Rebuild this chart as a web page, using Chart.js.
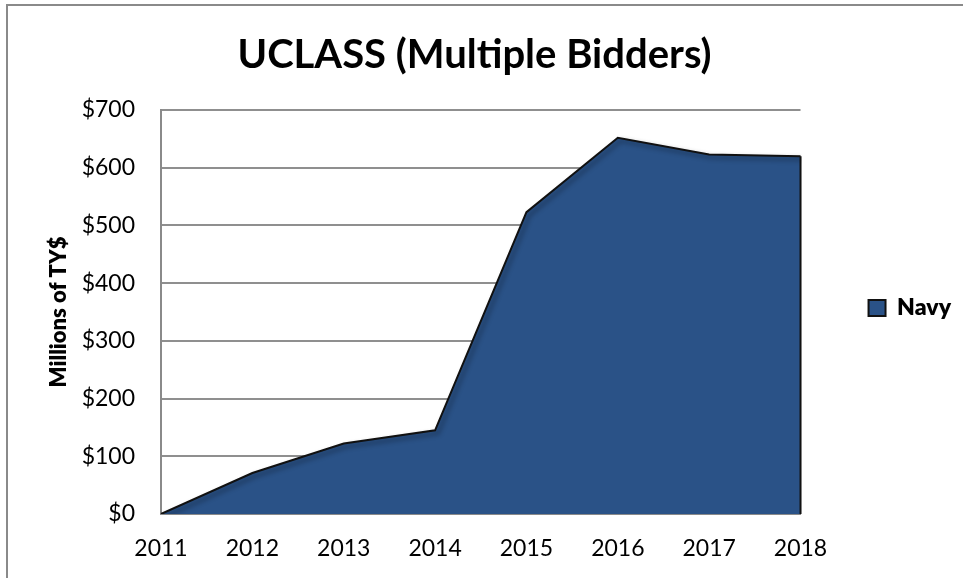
<!DOCTYPE html>
<html>
<head>
<meta charset="utf-8">
<style>
  html, body { margin: 0; padding: 0; background: #fff; }
  #wrap { position: relative; width: 963px; height: 578px; }
  #frame { position: absolute; left: 6px; top: 4px; right: 0; bottom: 0;
           border-top: 2px solid #8a8a8a; border-left: 2px solid #8a8a8a; pointer-events: none; }
  canvas { position: absolute; left: 0; top: 0; }
</style>
</head>
<body>
<div id="wrap">
  <canvas id="chart" width="963" height="578"></canvas>
  <div id="frame"></div>
</div>
<script src="https://cdn.jsdelivr.net/npm/chart.js@4.4.1/dist/chart.umd.min.js"></script>
<script>
// values
var years = ['2011', '2012', '2013', '2014', '2015', '2016', '2017', '2018'];
var navy = [0, 71, 122, 145, 523, 652, 623, 620];
var yTicks = [0, 100, 200, 300, 400, 500, 600, 700];

var FONT = 'Lato, "Open Sans", sans-serif';

// drop shadow under the area + closing edge at the last year
var areaPlugin = {
  id: 'areaShadow',
  beforeDatasetDraw: function(chart) {
    var ctx = chart.ctx;
    ctx.save();
    ctx.shadowColor = 'rgba(0,0,0,0.45)';
    ctx.shadowBlur = 5;
    ctx.shadowOffsetX = 3;
    ctx.shadowOffsetY = 3;
  },
  afterDatasetDraw: function(chart) {
    var ctx = chart.ctx;
    ctx.restore();
    var x = chart.scales.x.getPixelForValue(years.length - 1);
    var y = chart.scales.y.getPixelForValue(navy[navy.length - 1]);
    var y0 = chart.scales.y.getPixelForValue(0);
    ctx.save();
    ctx.strokeStyle = '#111';
    ctx.lineWidth = 2;
    ctx.beginPath();
    ctx.moveTo(x, y);
    ctx.lineTo(x, y0);
    ctx.stroke();
    ctx.restore();
  }
};

// legend sits further right / lower than chart.js would put it
var legendShift = {
  id: 'legendShift',
  afterLayout: function(chart) {
    var lg = chart.legend;
    var w = lg.width;
    lg.left = chart.chartArea.right + 58;
    lg.right = lg.left + w;
    lg.top += 19;
    lg.bottom += 19;
  }
};

var ctx = document.getElementById('chart').getContext('2d');
var chart = new Chart(ctx, {
  type: 'line',
  data: {
    labels: years,
    datasets: [{
      label: 'Navy',
      data: navy,
      fill: 'origin',
      backgroundColor: '#2a5287',
      borderColor: '#111',
      borderWidth: 2,
      tension: 0,
      pointRadius: 0
    }]
  },
  options: {
    responsive: false,
    animation: false,
    layout: { padding: { left: 46, right: 60, top: 0, bottom: 0 } },
    scales: {
      x: {
        offset: false,
        grid: { display: false, drawTicks: false },
        border: { color: '#8a8a8a', width: 2 },
        ticks: { color: '#000', font: { family: FONT, size: 23 }, padding: 21, maxRotation: 0 },
        afterFit: function(scale) { scale.height = 64; }
      },
      y: {
        min: 0,
        max: 700,
        afterBuildTicks: function(scale) {
          scale.ticks = yTicks.map(function(v) { return { value: v }; });
        },
        afterFit: function(scale) { scale.width = 115; },
        grid: { color: '#8f8f8f', lineWidth: 2, drawTicks: false },
        border: { color: '#8a8a8a', width: 2 },
        ticks: {
          color: '#000',
          font: { family: FONT, size: 23 },
          padding: 26,
          callback: function(v) { return '$' + v; }
        },
        title: {
          display: true,
          text: 'Millions of TY$',
          color: '#000',
          font: { family: FONT, size: 22, weight: '800' },
          padding: { top: 0, bottom: 0 }
        }
      }
    },
    plugins: {
      title: {
        display: true,
        text: 'UCLASS (Multiple Bidders)',
        color: '#000',
        font: { family: FONT, size: 40, weight: 'bold' },
        padding: { top: 31, bottom: 31 }
      },
      legend: {
        position: 'right',
        labels: {
          color: '#000',
          boxWidth: 17,
          boxHeight: 16,
          padding: 10,
          font: { family: FONT, size: 23, weight: '800' }
        }
      },
      tooltip: { enabled: false }
    }
  },
  plugins: [areaPlugin, legendShift]
});
</script>
</body>
</html>
